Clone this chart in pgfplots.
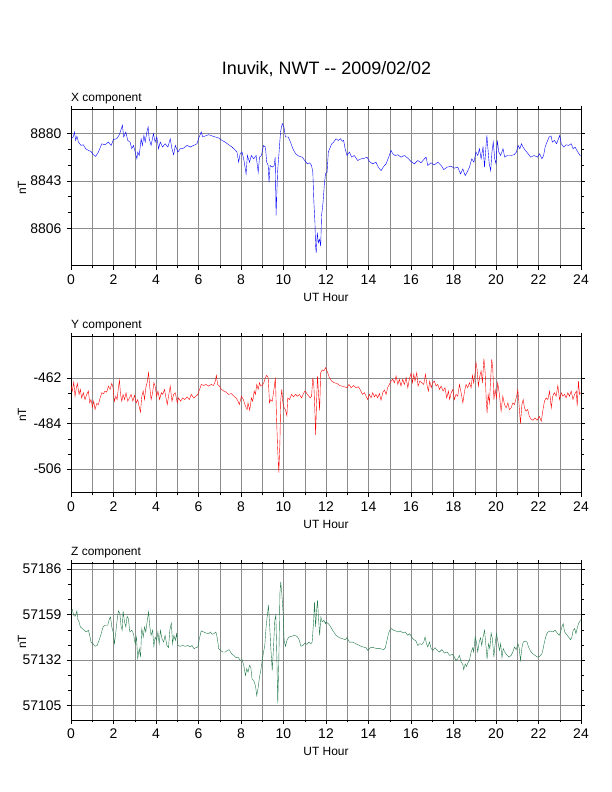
\documentclass[border=0pt]{standalone}
\usepackage{fontspec}
\setmainfont{Liberation Sans}
\usepackage{pgfplots}
\pgfplotsset{compat=1.18}
\definecolor{zgreen}{RGB}{30,120,70}
\definecolor{gridgray}{RGB}{140,140,140}
\pgfplotsset{
  magpanel/.style={
    scale only axis, width=510bp, height=156bp, anchor=south west,
    xmin=0, xmax=24,
    xtick={0,2,...,24}, minor xtick={1,3,...,23},
    minor y tick num=2,
    xmajorgrids, xminorgrids, ymajorgrids,
    major grid style={gridgray, line width=0.5pt},
    minor grid style={gridgray, line width=0.5pt},
    tick align=outside,
    major tick length=4bp, minor tick length=2.5bp,
    tick style={black, line width=0.5pt},
    axis line style={black, line width=1bp},
    scaled y ticks=false,
    /pgf/number format/assume math mode=true,
    /pgf/number format/1000 sep={},
    /pgf/number format/fixed,
    tick label style={font=\fontsize{14}{14}\selectfont},
    xticklabel style={yshift=-1bp},
    yticklabel style={xshift=-2bp},
    label style={font=\fontsize{12}{12}\selectfont},
    xlabel={UT Hour}, ylabel={nT},
    xlabel style={at={(axis description cs:0.5,-0.204)}, anchor=center},
    ylabel style={at={(axis description cs:-0.096,0.5)}, anchor=center},
    every axis title shift=0pt,
    title style={at={(axis description cs:0,1)}, anchor=base west, inner sep=0pt, yshift=8bp, font=\fontsize{12}{12}\selectfont},
  }
}
\begin{document}
\begin{tikzpicture}
\useasboundingbox (0,0) rectangle (612bp,792bp);
\node[font=\fontsize{18}{18}\selectfont, anchor=base] at (326.5bp,717bp) {Inuvik, NWT -{}- 2009/02/02};

% X component
\begin{axis}[magpanel, at={(71bp,526bp)}, ymin=8776.5, ymax=8898.5,
  ytick={8806,8843,8880}, title={X component}]
\addplot[blue, line width=0.4pt, mark=none] coordinates {
(0,8876)(0.11,8877.4)(0.16,8881.3)(0.22,8874.7)(0.28,8878)(0.35,8873.4)(0.47,8870.8)(0.58,8871.3)
(0.69,8868.2)(0.82,8866.9)(0.94,8866.1)(1.05,8863.5)(1.16,8862.2)(1.29,8865.6)(1.45,8872.1)(1.6,8871.3)
(1.76,8873.4)(1.89,8870.8)(2.0,8875.5)(2.15,8876)(2.26,8878.7)(2.33,8881.8)(2.42,8886.6)(2.48,8877.4)
(2.58,8881.3)(2.67,8874.7)(2.78,8873.4)(2.86,8868.2)(2.94,8870.8)(3.02,8865.6)(3.1,8860.3)(3.14,8865.6)
(3.21,8862.9)(3.3,8876)(3.36,8870.8)(3.43,8878.7)(3.49,8873.4)(3.57,8881.3)(3.63,8885.2)(3.68,8876)
(3.77,8870.8)(3.88,8880)(3.96,8873.4)(4.04,8877.4)(4.12,8868.2)(4.2,8873.4)(4.31,8869.5)(4.43,8872.1)
(4.56,8869.5)(4.67,8876)(4.75,8868.2)(4.83,8863.5)(4.91,8870.8)(5.03,8865.6)(5.14,8868.2)(5.3,8868.7)
(5.46,8870.8)(5.61,8869.5)(5.77,8870.8)(5.93,8872.1)(6.0,8876)(6.13,8881.3)(6.2,8877.4)(6.32,8878.2)
(6.48,8879.2)(6.64,8878.2)(6.79,8877.4)(6.95,8876.6)(7.11,8874.7)(7.26,8873.4)(7.42,8871.3)(7.58,8869.5)
(7.74,8866.9)(7.81,8865.6)(7.89,8857.7)(7.96,8864.3)(8.05,8865.6)(8.14,8859)(8.24,8848.5)(8.3,8862.9)
(8.4,8857.7)(8.49,8862.9)(8.6,8860.3)(8.71,8862.9)(8.81,8849.8)(8.87,8861.6)(8.96,8862.9)(9.06,8870.8)
(9.15,8869.5)(9.21,8857.7)(9.28,8855.1)(9.32,8841.9)(9.37,8855.1)(9.47,8853.8)(9.56,8855.1)(9.61,8861.6)
(9.65,8816)(9.72,8849.8)(9.78,8862.9)(9.86,8881.3)(9.94,8888)(10.02,8885.2)(10.09,8877.4)(10.22,8877.4)
(10.33,8873.4)(10.44,8868.2)(10.57,8864.3)(10.72,8862.4)(10.88,8861.6)(11.0,8859)(11.12,8856.4)(11.23,8857.2)
(11.32,8855.1)(11.38,8849.8)(11.43,8826.2)(11.48,8810.4)(11.51,8792.1)(11.54,8786.8)(11.59,8802.6)(11.64,8794.7)
(11.7,8797.3)(11.75,8792.1)(11.79,8815.7)(11.86,8826)(11.92,8840)(11.98,8849)(12.05,8849.8)(12.11,8865.6)
(12.17,8868.2)(12.27,8872.1)(12.36,8873.4)(12.47,8876)(12.58,8874.7)(12.68,8876)(12.77,8874)(12.83,8874.7)
(12.9,8868.2)(12.99,8862.9)(13.1,8865.6)(13.21,8861.6)(13.33,8862.9)(13.49,8859)(13.65,8860.3)(13.81,8860.8)
(13.93,8861.6)(14.04,8858.2)(14.2,8856.4)(14.35,8857.7)(14.46,8853.8)(14.59,8851.1)(14.72,8854.5)(14.83,8856.4)
(14.95,8861.6)(15.06,8866.9)(15.14,8864.3)(15.25,8862.9)(15.38,8863.5)(15.53,8861.6)(15.69,8862.9)(15.85,8860.8)
(16.0,8858.2)(16.16,8856.4)(16.32,8859)(16.47,8857.2)(16.63,8860.3)(16.71,8861.6)(16.79,8855.1)(16.94,8857.2)
(17.1,8855.6)(17.26,8857.7)(17.42,8855.1)(17.54,8851.9)(17.7,8853.8)(17.89,8854.5)(18.04,8853)(18.2,8853.8)
(18.33,8848.5)(18.44,8852.4)(18.55,8847.2)(18.64,8849.8)(18.75,8853.8)(18.86,8860.3)(18.96,8857.7)(19.06,8865.6)
(19.14,8862.9)(19.22,8868.2)(19.3,8860.3)(19.39,8869.5)(19.46,8853.8)(19.52,8868.2)(19.57,8878.7)(19.62,8868.2)
(19.68,8856.4)(19.75,8851.1)(19.81,8865.6)(19.87,8873.4)(19.94,8860.3)(20.0,8856.4)(20.06,8874.7)(20.13,8865.6)
(20.22,8862.9)(20.33,8868.2)(20.41,8861.6)(20.53,8862.9)(20.69,8862.9)(20.85,8863.5)(20.96,8865.6)(21.04,8870.8)
(21.12,8868.2)(21.2,8872.1)(21.27,8869.5)(21.38,8866.9)(21.51,8864.3)(21.63,8861.6)(21.79,8862.9)(21.95,8861.6)
(22.05,8864.3)(22.16,8860.3)(22.24,8862.9)(22.31,8869.5)(22.4,8873.4)(22.5,8877.4)(22.59,8878.2)(22.65,8873.4)
(22.75,8874.7)(22.85,8872.1)(22.94,8876)(23.0,8878.7)(23.07,8872.1)(23.19,8869.5)(23.3,8871.3)(23.41,8870.8)
(23.54,8872.1)(23.63,8868.2)(23.72,8869.5)(23.85,8865.6)(23.98,8862.4)
};
\end{axis}

% Y component
\begin{axis}[magpanel, at={(71bp,299bp)}, ymin=-517.5, ymax=-442.2,
  ytick={-506,-484,-462}, title={Y component}]
\addplot[red, line width=0.4pt, mark=none] coordinates {
(0,-465.9)(0.06,-468.3)(0.13,-463.9)(0.19,-470.8)(0.25,-466.7)(0.3,-464.6)(0.38,-469.9)(0.44,-467.5)
(0.5,-471.6)(0.58,-469.1)(0.66,-472.4)(0.74,-469.9)(0.82,-468.3)(0.88,-474)(0.94,-472.4)(1.01,-475.9)
(1.07,-473.2)(1.13,-477.2)(1.21,-474.3)(1.29,-474.8)(1.37,-471.6)(1.45,-469.1)(1.53,-469.5)(1.6,-468.3)
(1.68,-468.8)(1.76,-465.9)(1.84,-467.5)(1.92,-464.6)(1.98,-466.7)(2.04,-473.2)(2.11,-470.8)(2.17,-472.4)
(2.23,-466.7)(2.28,-463)(2.33,-469.9)(2.39,-473.2)(2.45,-469.9)(2.52,-472.4)(2.59,-469.1)(2.67,-473.2)
(2.75,-471.6)(2.83,-469.9)(2.91,-473.2)(2.99,-470.4)(3.07,-474)(3.14,-472.4)(3.21,-475.9)(3.27,-478.5)
(3.33,-470.8)(3.4,-468.3)(3.46,-472.4)(3.52,-466.7)(3.58,-464.3)(3.65,-459.4)(3.71,-466.7)(3.77,-472.4)
(3.84,-469.1)(3.9,-464.3)(3.96,-465.9)(4.03,-470.8)(4.09,-468.3)(4.17,-472.4)(4.25,-469.1)(4.32,-469.9)
(4.4,-467.5)(4.47,-471.6)(4.53,-474.8)(4.59,-470.8)(4.67,-465.9)(4.75,-473.2)(4.83,-469.9)(4.91,-469.1)
(5.0,-474)(5.06,-471.6)(5.16,-473.2)(5.25,-471.6)(5.35,-472.4)(5.46,-471.1)(5.57,-472.4)(5.66,-469.9)
(5.77,-471.6)(5.88,-470.8)(5.97,-469.9)(6.05,-467.5)(6.13,-465.1)(6.24,-465.6)(6.35,-465.1)(6.48,-465.9)
(6.6,-465.1)(6.71,-465.6)(6.79,-463.5)(6.84,-460.7)(6.9,-465.1)(6.98,-465.9)(7.08,-467.5)(7.19,-468.3)
(7.3,-468.8)(7.42,-469.9)(7.55,-469.5)(7.66,-470.8)(7.77,-471.6)(7.86,-473.2)(7.92,-474.8)(8.02,-470.8)
(8.11,-472.4)(8.21,-475.6)(8.29,-477.2)(8.33,-474)(8.41,-477.6)(8.49,-471.6)(8.55,-473.2)(8.62,-468.3)
(8.68,-469.9)(8.74,-465.1)(8.81,-467.5)(8.87,-464.3)(8.93,-465.9)(9.0,-465.6)(9.07,-464.3)(9.15,-461.8)
(9.21,-460.7)(9.28,-461.8)(9.34,-474)(9.4,-472.4)(9.47,-473.2)(9.54,-468.3)(9.62,-461.8)(9.67,-480.5)
(9.72,-495.1)(9.75,-501.5)(9.78,-507.7)(9.83,-493.4)(9.87,-472.4)(9.92,-467.5)(9.97,-474)(10.03,-476.4)
(10.09,-477.2)(10.16,-480.2)(10.2,-471.6)(10.28,-472.4)(10.38,-469.9)(10.47,-471.1)(10.57,-469.9)(10.66,-470.8)
(10.75,-469.9)(10.85,-471.6)(10.94,-469.5)(11.01,-468.3)(11.07,-469.1)(11.16,-470.4)(11.26,-471.6)(11.32,-470.8)
(11.38,-461.8)(11.43,-465.9)(11.48,-478.9)(11.51,-489.4)(11.56,-472.4)(11.6,-461)(11.65,-469.9)(11.7,-477.6)
(11.75,-459.4)(11.82,-458.1)(11.9,-458.6)(11.98,-457)(12.08,-459.4)(12.16,-461.8)(12.27,-463.5)(12.39,-464.3)
(12.52,-464.6)(12.63,-465.6)(12.74,-465.9)(12.86,-466.2)(12.99,-466.7)(13.08,-465.1)(13.18,-466.7)(13.3,-465.6)
(13.41,-466.7)(13.52,-466.2)(13.62,-467.8)(13.71,-469.9)(13.81,-469.1)(13.9,-471.1)(13.96,-472.4)(14.04,-469.9)
(14.12,-471.6)(14.2,-469.1)(14.28,-471.1)(14.35,-469.9)(14.43,-471.6)(14.51,-469.5)(14.59,-472.7)(14.67,-469.1)
(14.75,-467.8)(14.83,-469.9)(14.9,-466.7)(14.98,-465.1)(15.06,-463.5)(15.14,-462.6)(15.22,-464.3)(15.3,-461)
(15.38,-465.1)(15.45,-462.6)(15.53,-465.9)(15.61,-462.6)(15.69,-465.1)(15.77,-461.8)(15.85,-466.7)(15.92,-462.6)
(16.0,-459.7)(16.07,-464.3)(16.13,-460.2)(16.19,-463.5)(16.27,-459.4)(16.33,-465.9)(16.41,-463.5)(16.51,-464.3)
(16.6,-465.1)(16.68,-460.2)(16.76,-465.9)(16.82,-468.3)(16.88,-463.5)(16.95,-466.7)(17.02,-464.3)(17.1,-463.5)
(17.18,-465.9)(17.26,-465.1)(17.34,-467.5)(17.42,-465.9)(17.51,-468.3)(17.6,-466.7)(17.68,-471.6)(17.76,-468.3)
(17.82,-472.4)(17.89,-469.1)(17.97,-467.5)(18.04,-472.4)(18.12,-469.9)(18.2,-470.8)(18.28,-465.1)(18.36,-469.1)
(18.44,-474)(18.52,-468.3)(18.59,-465.1)(18.67,-466.7)(18.75,-464.3)(18.83,-466.7)(18.89,-460.7)(18.95,-464.3)
(19.02,-459.4)(19.06,-454.5)(19.11,-457.8)(19.17,-465.9)(19.24,-461)(19.3,-458.6)(19.36,-464.3)(19.43,-452.6)
(19.49,-459.4)(19.54,-472.4)(19.58,-478.9)(19.63,-469.9)(19.69,-474)(19.74,-464.3)(19.8,-452.9)(19.85,-457.8)
(19.9,-472.4)(19.96,-467.5)(20.02,-471.6)(20.08,-464.3)(20.16,-469.9)(20.24,-478)(20.32,-470.8)(20.4,-474.8)
(20.48,-476.4)(20.56,-474)(20.63,-477.2)(20.71,-476.4)(20.79,-474)(20.87,-474.8)(20.95,-471.6)(21.03,-467.8)
(21.09,-475.6)(21.15,-484)(21.22,-474.8)(21.28,-472.4)(21.34,-476.4)(21.41,-478)(21.49,-477.2)(21.57,-480.5)
(21.65,-481.8)(21.74,-482.4)(21.84,-481.3)(21.93,-482.4)(22.04,-480.5)(22.13,-482.9)(22.2,-478)(22.28,-473.2)
(22.36,-471.6)(22.44,-472.4)(22.52,-468.3)(22.6,-476.4)(22.67,-470.8)(22.75,-469.1)(22.83,-470.8)(22.91,-465.6)
(22.99,-472.4)(23.07,-469.1)(23.15,-470.8)(23.23,-469.9)(23.3,-471.6)(23.38,-469.1)(23.46,-470.8)(23.54,-468.3)
(23.62,-472.4)(23.7,-469.9)(23.78,-468.3)(23.82,-475.6)(23.88,-463.5)(23.93,-469.9)(23.98,-469.1)
};
\end{axis}

% Z component
\begin{axis}[magpanel, at={(71bp,72bp)}, ymin=57096.5, ymax=57189,
  ytick={57105,57132,57159,57186}, title={Z component}]
\addplot[zgreen, line width=0.4pt, mark=none] coordinates {
(0,57160.6)(0.06,57162)(0.13,57158.6)(0.19,57158)(0.24,57159.6)(0.28,57161.2)(0.31,57156.6)(0.38,57154.6)
(0.44,57151.7)(0.53,57150.7)(0.63,57149.7)(0.72,57148.7)(0.82,57149.7)(0.88,57146.7)(0.94,57142.7)(1.04,57141.7)
(1.13,57140.2)(1.23,57140.7)(1.32,57143.7)(1.42,57147.7)(1.51,57151.7)(1.6,57152.7)(1.73,57152.7)(1.81,57156.6)
(1.86,57157.6)(1.92,57151.7)(2.0,57147.7)(2.04,57141.3)(2.11,57148.7)(2.17,57155.6)(2.23,57161.2)(2.3,57159.6)
(2.36,57151.7)(2.41,57149.7)(2.45,57161.2)(2.52,57154.6)(2.58,57151.7)(2.64,57158)(2.7,57156.6)(2.77,57148.7)
(2.86,57149.7)(2.94,57147.7)(3.02,57141.7)(3.08,57145.7)(3.14,57132.8)(3.21,57138.8)(3.27,57133.8)(3.33,57150.7)
(3.4,57145.7)(3.46,57151.7)(3.52,57148.7)(3.58,57154.6)(3.65,57160.6)(3.71,57151.7)(3.77,57146.7)(3.84,57149.7)
(3.9,57140.2)(3.96,57145.7)(4.03,57143.7)(4.09,57148.7)(4.15,57141.7)(4.21,57149.7)(4.28,57144.7)(4.36,57142.7)
(4.43,57146.7)(4.51,57140.7)(4.59,57139.4)(4.65,57149.7)(4.72,57154)(4.78,57141.7)(4.84,57146.7)(4.91,57143.7)
(4.97,57147.7)(5.03,57140.7)(5.13,57140.2)(5.25,57140.7)(5.38,57140.2)(5.5,57140.7)(5.61,57139.8)(5.69,57140.7)
(5.79,57138.8)(5.88,57139.4)(5.97,57139.8)(6.04,57144.7)(6.13,57149.3)(6.24,57148.7)(6.35,57148.1)(6.48,57147.7)
(6.56,57148.7)(6.64,57147.3)(6.73,57147.7)(6.82,57148.7)(6.89,57144.7)(6.95,57138.8)(7.04,57137.8)(7.14,57136.8)
(7.26,57136.8)(7.36,57137.8)(7.45,57138.2)(7.55,57135.8)(7.66,57134.8)(7.77,57133.4)(7.86,57133.8)(7.97,57131.8)
(8.05,57132.2)(8.13,57128.8)(8.21,57122.9)(8.27,57126.9)(8.33,57124.9)(8.4,57128.8)(8.46,57127.8)(8.52,57120.9)
(8.6,57119.9)(8.68,57116.9)(8.74,57111)(8.81,57115.9)(8.87,57121.9)(8.93,57125.9)(9.0,57131.8)(9.06,57136.8)
(9.12,57140.7)(9.18,57151.7)(9.25,57159.6)(9.29,57164.6)(9.34,57154.6)(9.4,57139.8)(9.47,57125.9)(9.53,57139.8)
(9.59,57155.6)(9.64,57158.6)(9.69,57131.8)(9.73,57106.4)(9.78,57131.8)(9.83,57171.5)(9.87,57178.4)(9.92,57171.5)
(9.98,57160.6)(10.03,57143.7)(10.09,57140.2)(10.16,57143.7)(10.25,57145.7)(10.38,57146.1)(10.5,57146.7)(10.63,57146.1)
(10.72,57144.7)(10.82,57140.2)(10.91,57140.7)(11.01,57142.1)(11.1,57141.3)(11.19,57142.7)(11.29,57141.7)(11.35,57142.7)
(11.42,57155.6)(11.46,57166.5)(11.51,57151.7)(11.56,57161.6)(11.6,57167.5)(11.65,57156.6)(11.7,57146.7)(11.76,57157.6)
(11.82,57154.6)(11.9,57155.6)(11.98,57153.6)(12.0,57154.6)(12.11,57153.6)(12.2,57152.1)(12.31,57149.7)(12.47,57146.7)
(12.63,57145.3)(12.78,57144.7)(12.9,57144.1)(12.99,57145.3)(13.1,57142.7)(13.26,57142.7)(13.41,57141.7)(13.57,57140.7)
(13.73,57139.8)(13.88,57139.4)(13.96,57137.8)(14.09,57139.4)(14.24,57139.4)(14.4,57138.8)(14.56,57138.8)(14.72,57138.2)
(14.79,57139.4)(14.87,57143.7)(14.94,57147.7)(15.0,57149.7)(15.09,57150.7)(15.19,57149.7)(15.29,57149.3)(15.38,57148.7)
(15.5,57149.3)(15.61,57148.1)(15.72,57148.7)(15.85,57146.7)(15.94,57147.7)(16.03,57145.7)(16.13,57144.1)(16.22,57143.7)
(16.32,57140.7)(16.41,57141.7)(16.51,57141.3)(16.6,57142.7)(16.66,57145.7)(16.73,57141.7)(16.79,57139.8)(16.87,57142.7)
(16.95,57138.8)(17.04,57137.8)(17.13,57139.4)(17.23,57137.8)(17.34,57136.8)(17.45,57138.2)(17.57,57136.2)(17.7,57136.8)
(17.82,57134.8)(17.95,57135.4)(18.04,57133.8)(18.12,57131.8)(18.2,57132.8)(18.28,57134.8)(18.36,57130.8)(18.44,57129.4)
(18.48,57126.3)(18.55,57129.8)(18.61,57128.2)(18.67,57130.2)(18.75,57131.8)(18.83,57136.8)(18.91,57139.4)(18.95,57136.8)
(19.02,57145.7)(19.08,57142.7)(19.14,57136.8)(19.21,57142.7)(19.27,57145.3)(19.33,57140.7)(19.39,57145.7)(19.46,57149.7)
(19.52,57141.7)(19.58,57132.8)(19.65,57141.7)(19.71,57138.8)(19.77,57148.1)(19.83,57144.7)(19.9,57133.8)(19.96,57141.7)
(20.02,57147.7)(20.08,57143.7)(20.16,57137.8)(20.22,57141.7)(20.28,57133.4)(20.34,57138.8)(20.44,57136.2)(20.53,57134.8)
(20.62,57133.8)(20.71,57134.8)(20.79,57136.8)(20.87,57139.8)(20.95,57138.2)(21.03,57141.7)(21.09,57139.4)(21.15,57131.8)
(21.22,57139.4)(21.28,57142.7)(21.37,57143.3)(21.46,57142.7)(21.52,57140.2)(21.62,57137.4)(21.73,57135.8)(21.84,57134.8)
(21.94,57133.8)(22.05,57134.2)(22.16,57135.8)(22.22,57138.8)(22.28,57142.7)(22.36,57146.7)(22.44,57148.7)(22.57,57149.3)
(22.68,57148.7)(22.78,57149.7)(22.88,57148.1)(22.97,57146.7)(23.04,57148.7)(23.1,57151.7)(23.16,57153.6)(23.23,57148.7)
(23.32,57147.3)(23.41,57145.7)(23.51,57144.1)(23.57,57145.7)(23.63,57149.7)(23.7,57150.7)(23.76,57147.7)(23.82,57150.7)
(23.88,57153.6)(23.93,57154.6)(23.98,57156)
};
\end{axis}
\end{tikzpicture}
\end{document}
